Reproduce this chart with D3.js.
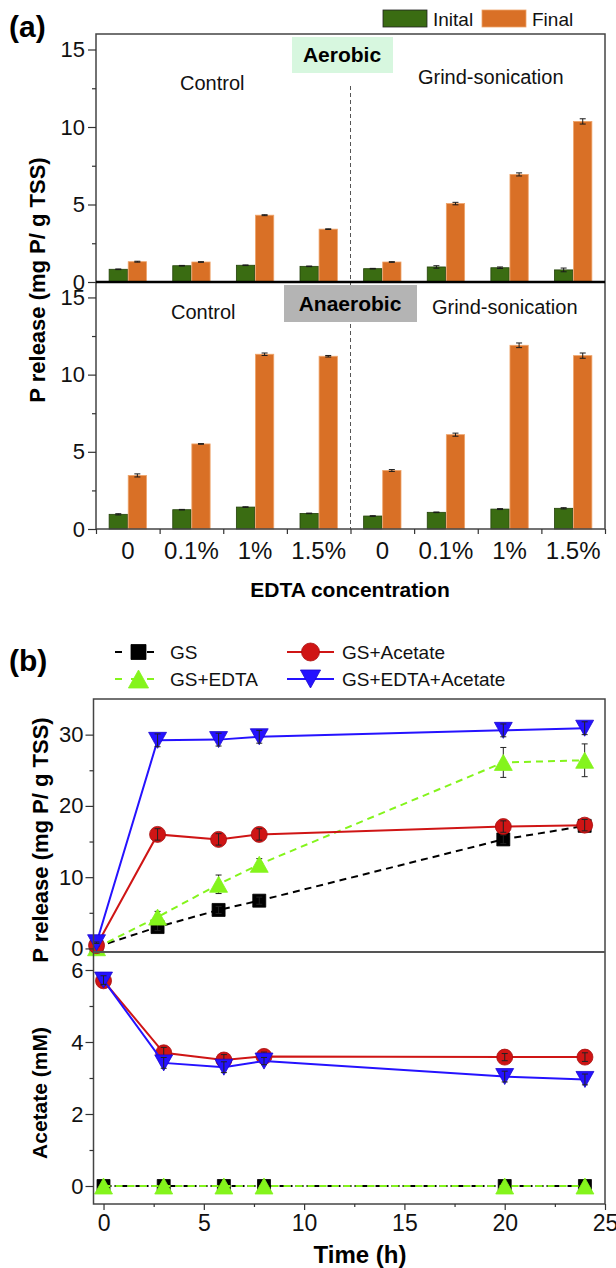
<!DOCTYPE html>
<html><head><meta charset="utf-8">
<script src="https://cdn.jsdelivr.net/npm/d3@7"></script>
<style>
html,body{margin:0;padding:0;background:#fff;}
svg{display:block;font-family:"Liberation Sans",Arial,sans-serif;}
</style></head>
<body>
<svg id="chart" width="616" height="1268"></svg>
<script>
// ---------------- DATA ----------------
// Panel (a)
const concLabels = ["0", "0.1%", "1%", "1.5%", "0", "0.1%", "1%", "1.5%"];
const barSeries = ["Inital", "Final"];
const groupLabels = ["Control", "Grind-sonication"];
const aerobicInitial    = [0.82, 1.05, 1.08, 1.01, 0.86, 0.97, 0.92, 0.78];
const aerobicInitialErr = [0.02, 0.02, 0.02, 0.02, 0.02, 0.08, 0.05, 0.12];
const aerobicFinal      = [1.31, 1.29, 4.31, 3.41, 1.29, 5.06, 6.94, 10.36];
const aerobicFinalErr   = [0.03, 0.02, 0.03, 0.02, 0.02, 0.08, 0.10, 0.17];
const anaerobicInitial    = [0.95, 1.25, 1.42, 1.01, 0.84, 1.08, 1.29, 1.34];
const anaerobicInitialErr = [0.04, 0.02, 0.02, 0.02, 0.02, 0.02, 0.03, 0.04];
const anaerobicFinal      = [3.47, 5.51, 11.32, 11.19, 3.79, 6.11, 11.90, 11.23];
const anaerobicFinalErr   = [0.10, 0.02, 0.08, 0.05, 0.06, 0.10, 0.15, 0.17];
const barTicks = [0, 5, 10, 15];
const barMinorTicks = [2.5, 7.5, 12.5];

// Panel (b)
const seriesNamesB = ["GS", "GS+EDTA", "GS+Acetate", "GS+EDTA+Acetate"];
const timeH = [0, 3, 6, 8, 20, 24];
const pGS           = [0.2, 3.0, 5.4, 6.7, 15.3, 17.2];
const pGSErr        = [0.1, 0.5, 0.5, 0.5, 0.6, 0.6];
const pGSEDTA       = [0.1, 4.4, 9.0, 11.8, 26.1, 26.4];
const pGSEDTAErr    = [0.1, 0.8, 1.3, 0.8, 2.1, 2.3];
const pGSAc         = [0.4, 16.0, 15.3, 16.0, 17.1, 17.3];
const pGSAcErr      = [0.1, 0.8, 0.8, 0.8, 0.8, 0.8];
const pGSEDTAAc     = [0.8, 29.2, 29.3, 29.7, 30.6, 30.9];
const pGSEDTAAcErr  = [0.1, 0.9, 0.9, 0.9, 0.9, 0.9];
const acGS          = [0, 0, 0, 0, 0, 0];
const acGSEDTA      = [0, 0, 0, 0, 0, 0];
const acGSAc        = [5.70, 3.70, 3.50, 3.60, 3.58, 3.58];
const acGSAcErr     = [0.12, 0.15, 0.15, 0.12, 0.1, 0.12];
const acGSEDTAAc    = [5.72, 3.42, 3.30, 3.47, 3.04, 2.96];
const acGSEDTAAcErr = [0.12, 0.15, 0.15, 0.1, 0.15, 0.15];
const pTicks = [0, 10, 20, 30];
const pMinorTicks = [5, 15, 25];
const acTicks = [0, 2, 4, 6];
const acMinorTicks = [1, 3, 5];
const timeTicks = [0, 5, 10, 15, 20, 25];
const timeMinorTicks = [2.5, 7.5, 12.5, 17.5, 22.5];

// ---------------- STYLE ----------------
const FONT = '"Liberation Sans", Arial, sans-serif';
const cGreen = "#3a6c12", cOrange = "#d97026";
const cBlack = "#000000", cLime = "#84f41c", cRed = "#cf1515", cBlue = "#2512ff";

const svg = d3.select("#chart");

function styleAxis(g, size) {
  g.attr("font-family", FONT).attr("font-size", size);
  g.select(".domain").remove();
  g.selectAll(".tick line").attr("stroke", "#333").attr("stroke-width", 1.2);
  g.selectAll(".tick text").attr("fill", "#111");
}

// ================= PANEL (a) =================
const A = {left: 96, right: 605, top: 34, mid: 282, bottom: 529};
const x0 = d3.scaleBand().domain(d3.range(concLabels.length)).range([A.left, A.right])
  .paddingInner(0.4).paddingOuter(0.2);
const x1 = d3.scaleBand().domain(barSeries).range([0, x0.bandwidth()]);
const xEdge = d3.scaleLinear().domain([0, concLabels.length]).range([A.left, A.right]);
const yTop = d3.scaleLinear().domain([0, 16]).range([A.mid, A.top]);
const yBot = d3.scaleLinear().domain([0, 16]).range([A.bottom, A.mid]);
const barColor = d3.scaleOrdinal().domain(barSeries).range([cGreen, cOrange]);
const barStroke = d3.scaleOrdinal().domain(barSeries).range(["#24420a", "#eea46a"]);

// dashed separator
svg.append("line").attr("x1", xEdge(4)).attr("x2", xEdge(4))
  .attr("y1", 86).attr("y2", A.bottom)
  .attr("stroke", "#555").attr("stroke-width", 1).attr("stroke-dasharray", "4,3");

function drawBars(yS, init, initErr, fin, finErr) {
  const rows = concLabels.map((c, i) => ({i, vals: [
    {k: barSeries[0], v: init[i], e: initErr[i]},
    {k: barSeries[1], v: fin[i], e: finErr[i]}]}));
  const g = svg.append("g");
  const grp = g.selectAll("g").data(rows).join("g")
    .attr("transform", d => `translate(${x0(d.i)},0)`);
  grp.selectAll("rect").data(d => d.vals).join("rect")
    .attr("x", d => x1(d.k) + 0.4).attr("width", x1.bandwidth() - 0.8)
    .attr("y", d => yS(d.v)).attr("height", d => yS(0) - yS(d.v))
    .attr("fill", d => barColor(d.k)).attr("stroke", d => barStroke(d.k)).attr("stroke-width", 0.8);
  const eb = grp.selectAll("g.eb").data(d => d.vals).join("g").attr("class", "eb")
    .attr("stroke", "#1a1a1a").attr("stroke-width", 1);
  const cx = d => x1(d.k) + x1.bandwidth() / 2;
  eb.append("line").attr("x1", cx).attr("x2", cx)
    .attr("y1", d => yS(d.v + d.e)).attr("y2", d => yS(d.v - d.e));
  [1, -1].forEach(sg => eb.append("line").attr("x1", d => cx(d) - 3).attr("x2", d => cx(d) + 3)
    .attr("y1", d => yS(d.v + sg * d.e)).attr("y2", d => yS(d.v + sg * d.e)));
}
drawBars(yTop, aerobicInitial, aerobicInitialErr, aerobicFinal, aerobicFinalErr);
drawBars(yBot, anaerobicInitial, anaerobicInitialErr, anaerobicFinal, anaerobicFinalErr);

// frame (a)
svg.append("rect").attr("x", A.left).attr("y", A.top).attr("width", A.right - A.left)
  .attr("height", A.bottom - A.top).attr("fill", "none").attr("stroke", "#444").attr("stroke-width", 1.5);
svg.append("line").attr("x1", A.left).attr("x2", A.right).attr("y1", A.mid).attr("y2", A.mid)
  .attr("stroke", "#000").attr("stroke-width", 2.5);

// y axes (a)
[yTop, yBot].forEach(yS => {
  svg.append("g").attr("transform", `translate(${A.left},0)`)
    .call(d3.axisLeft(yS).tickValues(barMinorTicks).tickSize(4).tickFormat(""))
    .call(g => styleAxis(g, 22));
  svg.append("g").attr("transform", `translate(${A.left},0)`)
    .call(d3.axisLeft(yS).tickValues(barTicks).tickSize(8).tickPadding(3))
    .call(g => styleAxis(g, 22));
});
// x axis (a)
svg.append("g").attr("transform", `translate(0,${A.bottom})`)
  .call(d3.axisBottom(xEdge).tickValues(d3.range(concLabels.length + 1)).tickSize(5).tickFormat(""))
  .call(g => styleAxis(g, 24));
svg.append("g").attr("transform", `translate(0,${A.bottom})`)
  .call(d3.axisBottom(x0).tickSize(0).tickPadding(13).tickFormat(i => concLabels[i]))
  .call(g => styleAxis(g, 24));

// condition boxes
svg.append("rect").attr("x", 292).attr("y", 37).attr("width", 101).attr("height", 36).attr("fill", "#d7f7df");
svg.append("text").attr("x", 342).attr("y", 55).attr("dy", "0.35em").attr("text-anchor", "middle")
  .attr("font-weight", "bold").attr("font-size", 21).attr("font-family", FONT).text("Aerobic");
svg.append("rect").attr("x", 284).attr("y", 285).attr("width", 133).attr("height", 37).attr("fill", "#b4b4b4");
svg.append("text").attr("x", 350).attr("y", 304).attr("dy", "0.35em").attr("text-anchor", "middle")
  .attr("font-weight", "bold").attr("font-size", 21).attr("font-family", FONT).text("Anaerobic");

const ctrlMid = d3.mean([x0(0), x0(3) + x0.bandwidth()]);
const gsMid = d3.mean([x0(4), x0(7) + x0.bandwidth()]);
const grpText = [
  {t: groupLabels[0], x: ctrlMid - 11, y: yTop(12.85)},
  {t: groupLabels[1], x: gsMid + 13, y: yTop(13.25)},
  {t: groupLabels[0], x: ctrlMid - 20, y: yBot(14.05)},
  {t: groupLabels[1], x: gsMid + 27, y: yBot(14.35)}];
svg.selectAll("text.grp").data(grpText).join("text").attr("class", "grp")
  .attr("x", d => d.x).attr("y", d => d.y).attr("dy", "0.35em").attr("text-anchor", "middle")
  .attr("font-size", 20).attr("font-family", FONT).attr("fill", "#111").text(d => d.t);

// axis titles (a)
svg.append("text").attr("transform", "translate(37,280) rotate(-90)").attr("dy", "0.35em")
  .attr("text-anchor", "middle").attr("font-weight", "bold").attr("font-size", 22).attr("font-family", FONT)
  .text("P release (mg P/ g TSS)");
svg.append("text").attr("x", 350).attr("y", 590).attr("dy", "0.35em").attr("text-anchor", "middle")
  .attr("font-weight", "bold").attr("font-size", 21).attr("font-family", FONT).text("EDTA concentration");
svg.append("text").attr("x", 9).attr("y", 26).attr("dy", "0.35em")
  .attr("font-weight", "bold").attr("font-size", 30).attr("font-family", FONT).text("(a)");

// legend (a)
const legA = svg.append("g");
[{k: barSeries[0], x: 383}, {k: barSeries[1], x: 482}].forEach(d => {
  legA.append("rect").attr("x", d.x).attr("y", 10).attr("width", 44).attr("height", 17)
    .attr("fill", barColor(d.k)).attr("stroke", d.k === barSeries[0] ? "#222" : "#eea46a").attr("stroke-width", 0.8);
  legA.append("text").attr("x", d.x + 50).attr("y", 19).attr("dy", "0.35em").attr("font-size", 19)
    .attr("font-family", FONT).attr("fill", "#111").text(d.k);
});

// ================= PANEL (b) =================
const B = {left: 93.5, right: 605, top: 699, mid: 952, bottom: 1204};
const xUp = d3.scaleLinear().domain([-0.15, 25]).range([B.left, B.right]);
const xLo = d3.scaleLinear().domain([-0.5, 25]).range([B.left, B.right]);
const yP = d3.scaleLinear().domain([-0.5, 35]).range([B.mid, B.top]);
const yAc = d3.scaleLinear().domain([-0.5, 6.5]).range([B.bottom, B.mid]);

function markerPath(type, s) {
  const w = s * 1.12, h = s;
  if (type === "square") return `M${-s / 2},${-s / 2}h${s}v${s}h${-s}Z`;
  if (type === "up") return `M0,${-h / 2}L${w / 2},${h / 2}L${-w / 2},${h / 2}Z`;
  if (type === "down") return `M0,${h / 2}L${w / 2},${-h / 2}L${-w / 2},${-h / 2}Z`;
  return d3.symbol(d3.symbolCircle, Math.PI * s * s / 4)();
}
const seriesStyle = {
  "GS": {color: cBlack, fill: "#000", stroke: "#000", dash: "7,5", marker: "square", size: 13},
  "GS+EDTA": {color: cLime, fill: cLime, stroke: cLime, dash: "7,5", marker: "up", size: 16},
  "GS+Acetate": {color: cRed, fill: cRed, stroke: "#a80d0d", dash: null, marker: "circle", size: 16},
  "GS+EDTA+Acetate": {color: cBlue, fill: cBlue, stroke: "#1a08d0", dash: null, marker: "down", size: 16}
};

function drawSeries(xS, yS, name, vals, errs, opts = {}) {
  const st = seriesStyle[name];
  const pts = timeH.map((t, i) => ({t, v: vals[i], e: errs ? errs[i] : 0}));
  const g = svg.append("g");
  g.append("path").datum(pts)
    .attr("d", d3.line().x(d => xS(d.t)).y(d => yS(d.v)))
    .attr("fill", "none").attr("stroke", st.color).attr("stroke-width", 2)
    .attr("stroke-dasharray", opts.dash !== undefined ? opts.dash : st.dash);
  const drawErr = (layer) => {
    if (!errs) return;
    const eb = layer.selectAll("g.e").data(pts.filter(d => d.e > 0)).join("g").attr("class", "e")
      .attr("stroke", "#222").attr("stroke-width", 1);
    eb.append("line").attr("x1", d => xS(d.t)).attr("x2", d => xS(d.t))
      .attr("y1", d => yS(d.v + d.e)).attr("y2", d => yS(d.v - d.e));
    [1, -1].forEach(sg => eb.append("line").attr("x1", d => xS(d.t) - 3).attr("x2", d => xS(d.t) + 3)
      .attr("y1", d => yS(d.v + sg * d.e)).attr("y2", d => yS(d.v + sg * d.e)));
  };
  if (opts.errBehind) drawErr(g.append("g"));
  g.append("g").selectAll("path").data(pts).join("path")
    .attr("transform", d => `translate(${xS(d.t)},${yS(d.v)})`)
    .attr("d", markerPath(st.marker, st.size)).attr("fill", st.fill)
    .attr("stroke", st.stroke).attr("stroke-width", 0.8);
  if (!opts.errBehind) drawErr(g.append("g"));
}

// upper: P release
drawSeries(xUp, yP, "GS", pGS, pGSErr);
drawSeries(xUp, yP, "GS+EDTA", pGSEDTA, pGSEDTAErr, {errBehind: true});
drawSeries(xUp, yP, "GS+Acetate", pGSAc, pGSAcErr);
drawSeries(xUp, yP, "GS+EDTA+Acetate", pGSEDTAAc, pGSEDTAAcErr);
// lower: acetate
drawSeries(xLo, yAc, "GS", acGS, null, {dash: "8,3,2,3"});
drawSeries(xLo, yAc, "GS+EDTA", acGSEDTA, null);
drawSeries(xLo, yAc, "GS+Acetate", acGSAc, acGSAcErr);
drawSeries(xLo, yAc, "GS+EDTA+Acetate", acGSEDTAAc, acGSEDTAAcErr);

// frame (b)
svg.append("rect").attr("x", B.left).attr("y", B.top).attr("width", B.right - B.left)
  .attr("height", B.bottom - B.top).attr("fill", "none").attr("stroke", "#444").attr("stroke-width", 1.5);
svg.append("line").attr("x1", B.left).attr("x2", B.right).attr("y1", B.mid).attr("y2", B.mid)
  .attr("stroke", "#555").attr("stroke-width", 2);

// axes (b)
[[yP, pTicks, pMinorTicks], [yAc, acTicks, acMinorTicks]].forEach(([yS, maj, mn]) => {
  svg.append("g").attr("transform", `translate(${B.left},0)`)
    .call(d3.axisLeft(yS).tickValues(mn).tickSize(4).tickFormat(""))
    .call(g => styleAxis(g, 22));
  svg.append("g").attr("transform", `translate(${B.left},0)`)
    .call(d3.axisLeft(yS).tickValues(maj).tickSize(8).tickPadding(2).tickFormat(d3.format("d")))
    .call(g => styleAxis(g, 22));
});
svg.append("g").attr("transform", `translate(0,${B.bottom})`)
  .call(d3.axisBottom(xLo).tickValues(timeMinorTicks).tickSize(3).tickFormat(""))
  .call(g => styleAxis(g, 23));
svg.append("g").attr("transform", `translate(0,${B.bottom})`)
  .call(d3.axisBottom(xLo).tickValues(timeTicks).tickSize(6).tickPadding(5).tickFormat(d3.format("d")))
  .call(g => styleAxis(g, 23));

svg.append("text").attr("transform", "translate(40,840) rotate(-90)").attr("dy", "0.35em")
  .attr("text-anchor", "middle").attr("font-weight", "bold").attr("font-size", 22).attr("font-family", FONT)
  .text("P release (mg P/ g TSS)");
svg.append("text").attr("transform", "translate(40,1093) rotate(-90)").attr("dy", "0.35em")
  .attr("text-anchor", "middle").attr("font-weight", "bold").attr("font-size", 21).attr("font-family", FONT)
  .text("Acetate (mM)");
svg.append("text").attr("x", 360).attr("y", 1255).attr("dy", "0.35em").attr("text-anchor", "middle")
  .attr("font-weight", "bold").attr("font-size", 24).attr("font-family", FONT).text("Time (h)");
svg.append("text").attr("x", 9).attr("y", 660).attr("dy", "0.35em")
  .attr("font-weight", "bold").attr("font-size", 30).attr("font-family", FONT).text("(b)");

// legend (b)
const legItems = [
  {k: "GS", x: 115, y: 652}, {k: "GS+Acetate", x: 287, y: 652},
  {k: "GS+EDTA", x: 115, y: 679}, {k: "GS+EDTA+Acetate", x: 287, y: 679}];
legItems.forEach(d => {
  const st = seriesStyle[d.k];
  svg.append("line").attr("x1", d.x).attr("x2", d.x + 47).attr("y1", d.y).attr("y2", d.y)
    .attr("stroke", st.color).attr("stroke-width", 2).attr("stroke-dasharray", st.dash ? "7,9" : null);
  svg.append("path").attr("transform", `translate(${d.x + 23.5},${d.y})`)
    .attr("d", markerPath(st.marker, st.size + 2)).attr("fill", st.fill).attr("stroke", st.stroke).attr("stroke-width", 0.8);
  svg.append("text").attr("x", d.x + 55).attr("y", d.y).attr("dy", "0.35em").attr("font-size", 19)
    .attr("font-family", FONT).attr("fill", "#111").text(d.k);
});
</script>
</body></html>
